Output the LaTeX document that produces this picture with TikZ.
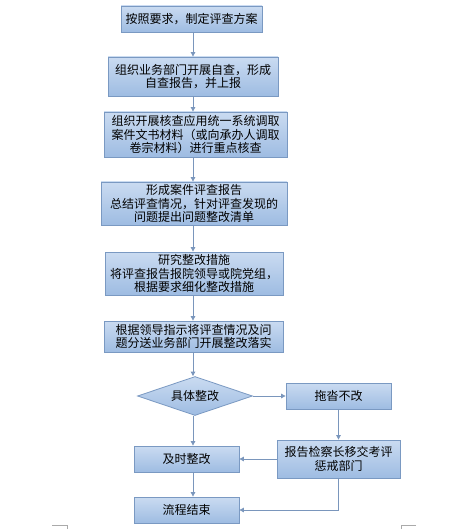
\documentclass[tikz,border=0pt]{standalone}
\usepackage{fontspec}
\newfontfamily\cjk{Noto Sans CJK SC}
\usetikzlibrary{shapes.geometric,arrows.meta}
\definecolor{boxtop}{RGB}{202,219,241}
\definecolor{boxbot}{RGB}{158,188,226}
\definecolor{boxline}{RGB}{122,153,194}
\definecolor{arrowc}{RGB}{122,150,188}
\definecolor{markc}{RGB}{170,170,170}
\tikzset{
  flowbox/.style={draw=boxline, line width=0.8pt, top color=boxtop, bottom color=boxbot,
    inner sep=0pt, align=center, font=\cjk\fontsize{12}{13.5}\selectfont},
  decide/.style={diamond, draw=boxline, line width=0.8pt, top color=boxtop, bottom color=boxbot,
    inner sep=0pt, aspect=2.95, minimum width=115pt, minimum height=39pt,
    font=\cjk\fontsize{12}{13.5}\selectfont},
  flowarrow/.style={draw=arrowc, line width=0.8pt, -{Triangle[width=4.5pt,length=4.5pt]}},
  cropmark/.style={draw=markc, line width=0.6pt}
}
\begin{document}
\begin{tikzpicture}[x=1pt,y=-1pt]
\useasboundingbox (0,0) rectangle (473,529);
\node[flowbox, minimum width=141pt, minimum height=26pt] (b1) at (191.5,19) {按照要求，制定评查方案};
\node[flowbox, minimum width=170pt, minimum height=39pt] (b2) at (193,76.5) {组织业务部门开展自查，形成\\自查报告，并上报};
\node[flowbox, minimum width=183pt, minimum height=45pt] (b3) at (195.5,134.5) {组织开展核查应用统一系统调取\\案件文书材料（或向承办人调取\\卷宗材料）进行重点核查};
\node[flowbox, minimum width=186pt, minimum height=43pt] (b4) at (194,203.5) {形成案件评查报告\\总结评查情况，针对评查发现的\\问题提出问题整改清单};
\node[flowbox, minimum width=178pt, minimum height=43pt] (b5) at (194,273.5) {研究整改措施\\将评查报告报院领导或院党组，\\根据要求细化整改措施};
\node[flowbox, minimum width=179pt, minimum height=31pt] (b6) at (193.5,336.5) {根据领导指示将评查情况及问\\题分送业务部门开展整改落实};
\node[decide] (dia) at (195,396) {具体整改};
\node[flowbox, minimum width=105pt, minimum height=26pt] (b7) at (338.5,396) {拖沓不改};
\node[flowbox, minimum width=123pt, minimum height=38pt] (b8) at (338.5,459) {报告检察长移交考评\\惩戒部门};
\node[flowbox, minimum width=105pt, minimum height=26pt] (b9) at (186.5,459) {及时整改};
\node[flowbox, minimum width=105pt, minimum height=26pt] (b10) at (186.5,510) {流程结束};
\coordinate (colx) at (193,0);
\draw[flowarrow] (b1.south -| colx) -- (b2.north -| colx);
\draw[flowarrow] (b2.south -| colx) -- (b3.north -| colx);
\draw[flowarrow] (b3.south -| colx) -- (b4.north -| colx);
\draw[flowarrow] (b4.south -| colx) -- (b5.north -| colx);
\draw[flowarrow] (b5.south -| colx) -- (b6.north -| colx);
\draw[flowarrow] (b6.south -| colx) -- (dia.north -| colx);
\draw[flowarrow] (dia.east) -- (b7.west);
\draw[flowarrow] (b7.south) -- (b8.north);
\draw[flowarrow] (b8.west) -- (b9.east);
\draw[flowarrow] (dia.south -| colx) -- (b9.north -| colx);
\draw[flowarrow] (b9.south -| colx) -- (b10.north -| colx);
\draw[flowarrow] (b8.south) |- (b10.east);
\coordinate (m1) at (52,525);
\coordinate (m2) at (416,525);
\draw[cropmark] (m1) -- ++(15,0) -- ++(0,4);
\draw[cropmark] (m2) -- ++(-15,0) -- ++(0,4);
\end{tikzpicture}
\end{document}
